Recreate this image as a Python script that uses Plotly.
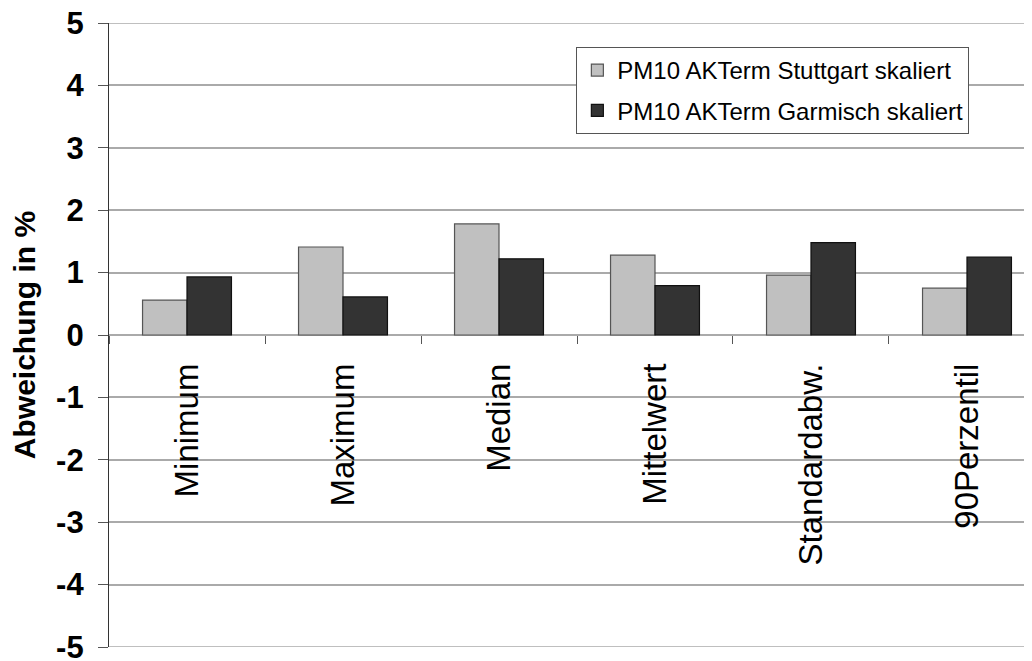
import plotly.graph_objects as go

categories = ["Minimum", "Maximum", "Median", "Mittelwert", "Standardabw.", "90Perzentil"]
stuttgart = [0.56, 1.41, 1.78, 1.28, 0.96, 0.75]
garmisch = [0.93, 0.61, 1.22, 0.79, 1.48, 1.25]
name_stuttgart = "PM10 AKTerm Stuttgart skaliert"
name_garmisch = "PM10 AKTerm Garmisch skaliert"
y_ticks = [-5, -4, -3, -2, -1, 0, 1, 2, 3, 4, 5]
y_ticktext = ["-5", "-4", "-3", "-2", "-1", "0", "1", "2", "3", "4", "5"]

FONT = "Liberation Sans, Arial, sans-serif"
GRID = "#aaaaaa"

fig = go.Figure()
fig.add_trace(go.Bar(
    x=categories, y=stuttgart, name=name_stuttgart, legendgroup="a",
    marker=dict(color="#c0c0c0", line=dict(color="#555555", width=1.2)),
))
fig.add_trace(go.Bar(
    x=categories, y=garmisch, name=name_garmisch, legendgroup="b",
    marker=dict(color="#333333", line=dict(color="#111111", width=1.2)),
))

# plotly skips gridlines at the range ends, draw them as shapes
for yv in (y_ticks[0], y_ticks[-1]):
    fig.add_shape(type="line", xref="paper", yref="y", x0=0, x1=1, y0=yv, y1=yv,
                  line=dict(color=GRID, width=1.5), layer="below")

# the page adds an 8px body margin, so margins are offset by 8
fig.update_layout(
    width=1032, height=661,
    margin=dict(l=101, r=0, t=15, b=22),
    paper_bgcolor="white", plot_bgcolor="white",
    font=dict(family=FONT, color="black"),
    barmode="group", bargap=0.43, bargroupgap=0,
    showlegend=True,
    legend=dict(
        x=0.502, y=0.9615, xanchor="left", yanchor="top",
        bgcolor="white", bordercolor="#555555", borderwidth=1,
        font=dict(size=24, family=FONT), traceorder="grouped", tracegroupgap=6,
        itemwidth=30,
    ),
    xaxis=dict(
        range=[-0.5, 5.468],
        anchor="free", position=0.5, automargin=False,
        showline=False, showgrid=False, zeroline=False,
        ticks="outside", tickson="boundaries", ticklen=8, tickcolor="#555555",
        tickangle=-90, tickfont=dict(size=33, family=FONT),
        ticklabelstandoff=21,
    ),
    yaxis=dict(
        range=[-5, 5], tickmode="array", tickvals=y_ticks, ticktext=y_ticktext,
        ticklabeloverflow="allow",
        showgrid=True, gridcolor=GRID, gridwidth=1.5,
        zeroline=True, zerolinecolor=GRID, zerolinewidth=1.5,
        showline=True, linecolor="#333333", linewidth=1.2,
        ticks="outside", ticklen=10, tickcolor="#555555",
        tickfont=dict(size=31, family=FONT, weight="bold"),
        ticklabelstandoff=8,
        title=dict(text="<b>Abweichung in %</b>", font=dict(size=30, family=FONT), standoff=11),
        automargin=False,
    ),
)

fig.write_html("out.html")
